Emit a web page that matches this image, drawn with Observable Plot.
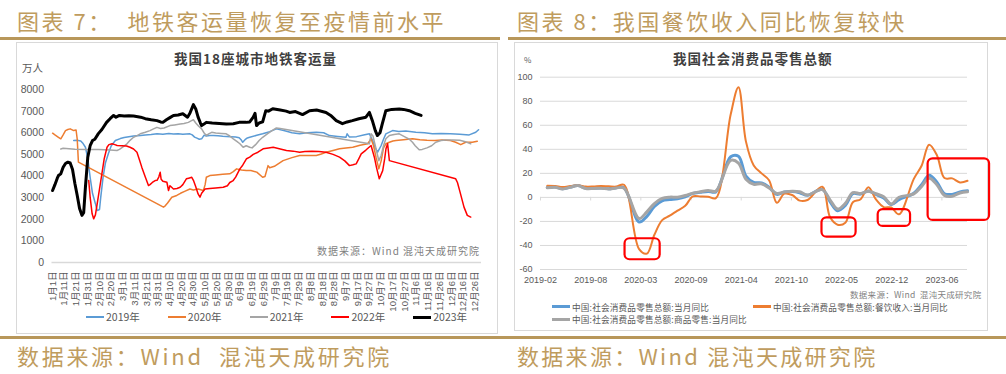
<!DOCTYPE html>
<html><head><meta charset="utf-8">
<script src="https://cdn.jsdelivr.net/npm/d3@7"></script>
<script src="https://cdn.jsdelivr.net/npm/@observablehq/plot@0.6"></script>
<style>
html,body{margin:0;padding:0;background:#fff;}
body{width:1006px;height:374px;position:relative;overflow:hidden;font-family:"Noto Sans CJK SC","Liberation Sans",sans-serif;}
.abs{position:absolute;white-space:nowrap;}
.h{color:#bf9c5e;font-size:22px;letter-spacing:2.5px;line-height:1;}
.rule{position:absolute;background:#b8975a;height:3px;}
.box{position:absolute;border:1px solid #d9d9d9;box-sizing:border-box;}
.ct{color:#404040;font-size:13.5px;font-weight:700;letter-spacing:1px;line-height:1;}
.src{color:#7f7f7f;line-height:1;}
.lg{color:#595959;line-height:1;display:flex;align-items:center;}
.sw{display:inline-block;width:18px;margin-right:2px;}
</style></head><body>
<div id="page"></div>
<script>
// ---------- Left chart data: day index (leap-year calendar) , 万人 ----------
const dayTicks = [1,11,21,31,41,51,61,71,81,91,101,111,121,131,141,151,161,171,181,191,201,211,221,231,241,251,261,271,281,291,301,311,321,331,341,351,361];
const dayLabels = ["1月1日","1月11日","1月21日","1月31日","2月10日","2月20日","3月1日","3月11日","3月21日","3月31日","4月10日","4月20日","4月30日","5月10日","5月20日","5月30日","6月9日","6月19日","6月29日","7月9日","7月19日","7月29日","8月8日","8月18日","8月28日","9月7日","9月17日","9月27日","10月7日","10月17日","10月27日","11月6日","11月16日","11月26日","12月6日","12月16日","12月26日"];
const leftYTicks = [0,1000,2000,3000,4000,5000,6000,7000,8000];
const yearNames = ["2019年","2020年","2021年","2022年","2023年"];

const s2019 = [[19,5640],[22,5650],[25,5620],[27,5500],[29,5330],[31,4800],[33,3940],[35,3200],[37.5,2720],[39,2400],[41,2450],[42,3000],[44,3940],[46,4600],[48.5,5030],[51,5400],[54.5,5640],[58.7,5730],[62,5780],[66,5820],[70,5850],[76,5870],[80,5900],[85,5920],[90,5950],[95,5930],[100,5960],[104,5940],[108,5950],[112,5930],[118,5950],[120,5900],[122,5800],[124,5750],[126,5700],[128,5720],[130,5880],[132,5850],[135,5870],[138,5870],[142,5860],[146,5840],[149,5830],[153,5820],[157,5800],[160,5770],[162,5650],[163,5560],[165,5680],[167,5760],[169,5790],[175,5880],[180,5950],[186,6050],[191.7,6180],[198,6100],[205,6000],[211.5,5950],[218,6000],[225.7,6020],[232,6000],[237,5870],[244,5830],[251,5790],[252,5950],[254,5800],[260,5820],[266,5900],[271,5950],[273.7,5640],[276,5300],[278,5100],[281,5410],[283,5700],[285,5950],[290.7,6100],[296,6060],[302,6080],[310.6,6020],[318,6000],[324.7,5950],[332,5960],[340,5950],[348,5930],[356,5900],[361.6,6020],[364,6140]];
const s2020 = [[1,5980],[3,5900],[6,5790],[8,5720],[10,5900],[12,6100],[14,6150],[16,6180],[19,6100],[21,6130],[22,5700],[23,4640],[95.5,2560],[97,2620],[99,2750],[102.6,3020],[106.8,3100],[110,3200],[114,3300],[118,3400],[121,3350],[125,3400],[129.5,3330],[131,3600],[132,3940],[135,4020],[140,4050],[146,4080],[152,4100],[155,4200],[157.8,4330],[162,4280],[166,4250],[170,4250],[175,4180],[180,3940],[182,3980],[184.6,4480],[186,4380],[190,4450],[197.4,4710],[205,4850],[211.5,4950],[218,4950],[225.7,4950],[230,5020],[234,5100],[240,5180],[245.5,5260],[251,5300],[256.8,5330],[263,5420],[269.5,5490],[272.4,5720],[274.5,5400],[276.6,4870],[279,4330],[281,4700],[283,5300],[285,5490],[288,5560],[291,5620],[293.6,5640],[300,5680],[307.7,5720],[314,5680],[320,5650],[326.7,5640],[333,5660],[340,5640],[344.5,5560],[348.8,5450],[353,5560],[358.6,5560],[362.9,5610]];
const s2021 = [[8,5250],[10,5280],[15,5260],[20,5240],[30,5230],[40,5220],[50,5200],[55.9,5180],[58,5230],[61,5350],[64.4,5490],[67,5650],[70,5790],[73,5870],[75.7,5950],[80,6020],[84,6100],[87,6180],[89.9,6250],[93,6200],[96,6220],[101,6330],[105,6360],[109.7,6400],[113,6430],[116.7,6480],[119,6550],[121,6600],[123,6450],[125.5,6300],[128,6180],[130,6000],[132,5870],[134,5950],[136.6,6020],[140,5990],[145,5970],[149,5950],[152,5850],[155,5720],[158,5600],[160.6,5490],[163.4,5330],[166,5400],[169,5330],[171,5300],[174,5450],[177,5640],[180,5790],[184,5950],[188,6100],[191.7,6220],[195,6200],[271,5490],[272.4,5950],[274,5850],[276,5400],[279,4710],[281,4950],[283,5400],[285,5720],[288,5870],[292,5920],[296.4,5950],[302,5790],[305,5700],[307.7,5560],[310,5400],[313.4,5210],[316,5230],[320,5300],[324,5400],[327.5,5560],[332,5640],[336,5670],[342,5660],[348,5650],[352,5600],[357.3,5490]];
const s2022 = [[31.8,3790],[33,3020],[34.7,2250],[36,2020],[37.5,2200],[39,2710],[41,3400],[43,4100],[45,4800],[47.4,5330],[49,5450],[51.7,5490],[54,5450],[56,5410],[60,5400],[64,5390],[67,5330],[70,5250],[72.9,5100],[75,4750],[77,4410],[80,3950],[82.7,3560],[84,3600],[86,3700],[88.4,3790],[90,3800],[91.5,3950],[92.7,4170],[93.5,3850],[95,3760],[98.4,3710],[99.8,3330],[101,3550],[102,3500],[104,3400],[107,3420],[109.7,3480],[112,3600],[115,3870],[117,3900],[119.6,3940],[121,3800],[123,3500],[125,3170],[126.6,3020],[128,3200],[130.9,3400],[135,3420],[140,3450],[146.4,3480],[150,3550],[152,3700],[154.9,3790],[157,3950],[160.6,4330],[163,4500],[166.3,4800],[169,4870],[172,5000],[176,5100],[180.4,5260],[185,5300],[189,5330],[195,5250],[200.3,5180],[206,5150],[211.5,5100],[216,5130],[222,5150],[228,5130],[234,5100],[240,5000],[245.5,4870],[250,4700],[254,4480],[257,4520],[259.7,4560],[262,4800],[264,5020],[268,5200],[272.4,5410],[275.2,4870],[277,4400],[279.4,3870],[282.3,4250],[284,4800],[285.1,5260],[286.5,5490],[288,4710],[344.5,3870],[346,3700],[348,3300],[351.6,2560],[354.4,2180],[357.3,2100]];
const s2023 = [[1,3330],[3,3600],[5,3900],[6,4020],[8,4100],[10,4400],[12,4580],[14,4640],[16,4600],[18,4300],[20,3650],[22,3100],[24,2500],[26,2180],[27.5,2300],[29,3500],[31,4870],[33,5400],[35,5640],[37,5700],[40,5960],[43,6150],[47,6480],[50,6650],[53,6800],[55,6720],[58,6800],[62,6780],[66,6790],[70,6770],[76,6720],[80,6650],[85,6600],[90,6560],[93,6500],[95,6480],[98,6600],[101,6700],[104,6800],[108,6820],[112,6880],[114,6800],[116,6720],[118,6900],[121,7300],[123,7100],[125,6720],[127,6450],[128,6330],[130,6400],[132,6480],[137,6450],[143,6430],[149,6400],[155,6420],[160,6480],[166,6480],[169,6500],[172,6720],[173.5,6900],[174.8,6330],[177,6450],[180,6500],[182.7,7020],[185,7000],[188.6,7110],[195,7050],[200,7000],[203,6940],[208,6980],[214,6840],[220,7020],[226,7050],[234,6940],[238,6800],[242.7,6560],[248,6420],[252,6500],[256.5,6560],[262,6650],[268,6720],[271,6940],[273.5,6560],[276,6100],[277.8,5870],[280,6000],[282,6420],[285,7020],[290,7080],[296.4,7100],[300,7080],[305,7020],[310,6900],[315,6800]];
const yearColors = ["#5b9bd5","#ed7d31","#a5a5a5","#ff0000","#000000"];
const yearWidths = [1.5,1.5,1.5,1.5,3];

// ---------- Right chart data: monthly (Jan merged into Feb) ----------
const months = ["2019-02","2019-03","2019-04","2019-05","2019-06","2019-07","2019-08","2019-09","2019-10","2019-11","2019-12",
"2020-02","2020-03","2020-04","2020-05","2020-06","2020-07","2020-08","2020-09","2020-10","2020-11","2020-12",
"2021-02","2021-03","2021-04","2021-05","2021-06","2021-07","2021-08","2021-09","2021-10","2021-11","2021-12",
"2022-02","2022-03","2022-04","2022-05","2022-06","2022-07","2022-08","2022-09","2022-10","2022-11","2022-12",
"2023-02","2023-03","2023-04","2023-05","2023-06","2023-07","2023-08","2023-09"];
const retailTotal = [8.2,8.7,7.2,8.6,9.8,7.6,7.5,7.8,7.2,8.0,8.0,
-20.5,-15.8,-7.5,-2.8,-1.8,-1.1,0.5,3.3,4.3,5.0,4.6,
33.8,34.2,17.7,12.4,12.1,8.5,2.5,4.4,4.9,3.9,1.7,
6.7,-3.5,-11.1,-6.7,3.1,2.7,5.4,2.5,-0.5,-5.9,-1.8,
3.5,10.6,18.4,12.7,3.1,2.5,4.6,5.5];
const catering = [9.7,9.5,8.6,9.4,10.2,9.0,9.1,9.5,9.2,9.0,10.5,
-43.1,-46.8,-31.1,-18.9,-15.2,-11.0,-7.0,0.9,0.8,0.6,-0.6,
68.9,91.6,46.4,26.6,20.2,14.3,-4.5,3.1,2.0,-2.7,-2.2,
8.9,-16.4,-22.7,-21.1,-4.0,-1.5,8.4,-1.7,-8.1,-8.4,-14.1,
15.4,26.3,43.8,35.1,16.1,15.8,12.4,13.8];
const goods = [8.0,8.5,7.0,8.5,9.8,7.4,7.4,7.7,7.0,7.9,7.7,
-17.6,-12.0,-5.1,-0.8,0.2,0.2,1.6,3.5,4.7,5.8,5.2,
30.7,28.6,15.1,10.9,11.3,7.9,3.3,4.5,5.2,4.7,2.0,
6.5,-2.1,-9.7,-5.0,3.9,3.2,5.1,3.0,0.5,-5.6,0.1,
2.9,9.1,15.9,10.5,1.7,1.0,3.7,4.6];
const seriesNames = ["中国:社会消费品零售总额:当月同比","中国:社会消费品零售总额:餐饮收入:当月同比","中国:社会消费品零售总额:商品零售:当月同比"];
const seriesColors = ["#5b9bd5","#ed7d31","#a5a5a5"];
const xTickLabels = ["2019-02","2019-08","2020-03","2020-09","2021-04","2021-10","2022-05","2022-12","2023-06"];
const rightYTicks = [-60,-40,-20,0,20,40,60,80,100];
// highlight boxes (date range, value range)
const highlights = [
  ["2020-01-04","2020-05-23",-34.4,-51.9],
  ["2022-02-27","2022-07-13",-17.0,-33.1],
  ["2022-10-09","2023-02-15",-10.1,-24.2],
  ["2023-04-26","2023-12-27",32.1,-19.2]
];

// ---------- page ----------
const page = document.getElementById("page");
function el(cls, style, html){const d=document.createElement("div");d.className=cls;Object.assign(d.style,style);d.innerHTML=html||"";page.appendChild(d);return d;}

el("abs h",{left:"17px",top:"9px"},"图表 7：&nbsp;&nbsp;地铁客运量恢复至疫情前水平");
el("abs h",{left:"517px",top:"9px"},"图表 8：我国餐饮收入同比恢复较快");
el("rule",{left:"0px",top:"37px",width:"500px"});
el("rule",{left:"508px",top:"37px",width:"498px"});
el("box",{left:"16px",top:"42px",width:"482px",height:"292px"});
el("box",{left:"514px",top:"42px",width:"474px",height:"289px"});
el("rule",{left:"0px",top:"336px",width:"1006px"});
el("abs h",{left:"17px",top:"344px",letterSpacing:"2.7px"},"数据来源：Wind&nbsp;&nbsp;混沌天成研究院");
el("abs h",{left:"517px",top:"344px",letterSpacing:"2.3px"},"数据来源：Wind 混沌天成研究院");

const font = '"Liberation Sans","Noto Sans CJK SC",sans-serif';

// left chart
const yearSeries = [s2019,s2020,s2021,s2022,s2023];
const labelByDay = new Map(dayTicks.map((d,i)=>[d,dayLabels[i]]));
const left = Plot.plot({
  width: 481, height: 291,
  marginLeft: 35.5, marginRight: 16, marginTop: 47, marginBottom: 71,
  style: {fontFamily: font, fontSize: "10px", color: "#595959", background: "transparent", overflow: "visible"},
  x: {domain: [0.5, 366.5], label: null},
  y: {domain: [0, 8000], label: null},
  marks: [
    Plot.axisX(dayTicks, {tickSize: 0, tickPadding: 9, tickRotate: -90, tickFormat: d => labelByDay.get(d), fontSize: 9.5, fill: "#595959"}),
    Plot.axisY(leftYTicks, {tickSize: 0, tickPadding: 8, tickFormat: d => String(d), fontSize: 10.5, fill: "#595959"}),
    Plot.ruleY([0], {stroke: "#d9d9d9", strokeWidth: 1.5}),
    ...yearSeries.map((s,i) => Plot.line(s, {x: d => d[0], y: d => d[1], stroke: yearColors[i], strokeWidth: yearWidths[i], strokeLinejoin: "round"}))
  ]
});
left.style.position = "absolute"; left.style.left = "16px"; left.style.top = "42px";
page.appendChild(left);
el("abs ct",{left:"174px",top:"52px"},"我国18座城市地铁客运量");
el("abs src",{left:"22px",top:"63px",fontSize:"10.5px",color:"#595959"},"万人");
el("abs src",{left:"317px",top:"246px",fontSize:"10px",letterSpacing:"1px"},"数据来源：Wind 混沌天成研究院");
const lgL = el("abs lg",{left:"86px",top:"312px",fontSize:"10.5px"},"");
yearNames.forEach((n,i)=>{
  const it=document.createElement("span");it.style.display="inline-flex";it.style.alignItems="center";it.style.marginRight="28px";
  it.innerHTML=`<span class="sw" style="border-top:${yearWidths[i]+0.5}px solid ${yearColors[i]}"></span>${n}`;
  lgL.appendChild(it);
});

// right chart
const toDate = s => { const [y,m] = s.split("-").map(Number); return new Date(Date.UTC(y, m, 0)); };
const rows = months.map((m,i)=>({date: toDate(m), total: retailTotal[i], cat: catering[i], goods: goods[i]}));
const t0 = Date.UTC(2019,1,1);
const xTicks = xTickLabels.map((l,i)=> new Date(t0 + i*200*864e5));
const tickLabelMap = new Map(xTicks.map((d,i)=>[+d, xTickLabels[i]]));
const hl = highlights.map(h=>({x1:new Date(h[0]),x2:new Date(h[1]),y1:h[2],y2:h[3]}));
const right = Plot.plot({
  width: 473, height: 288,
  marginLeft: 26, marginRight: 20, marginTop: 34.7, marginBottom: 61,
  style: {fontFamily: font, fontSize: "9px", color: "#595959", background: "transparent", overflow: "visible"},
  x: {type: "utc", domain: [new Date(t0), new Date(Date.UTC(2023,8,30))], label: null},
  y: {domain: [-60, 100], label: null},
  marks: [
    Plot.gridY(rightYTicks, {stroke: "#d9d9d9", strokeOpacity: 1, strokeWidth: 1}),
    Plot.ruleX(xTicks, {y1: 0, y2: -3, stroke: "#d9d9d9"}),
    Plot.axisX(xTicks, {tickSize: 0, tickPadding: 7, tickFormat: d => tickLabelMap.get(+d), fontSize: 9, fill: "#595959"}),
    Plot.axisY(rightYTicks, {tickSize: 0, tickPadding: 8, tickFormat: d => String(d), fontSize: 9, fill: "#595959"}),
    Plot.line(rows, {x: "date", y: "total", stroke: seriesColors[0], strokeWidth: 3, curve: "catmull-rom"}),
    Plot.line(rows, {x: "date", y: "cat", stroke: seriesColors[1], strokeWidth: 2, curve: "catmull-rom"}),
    Plot.line(rows, {x: "date", y: "goods", stroke: seriesColors[2], strokeWidth: 3, curve: "catmull-rom"}),
    Plot.rect(hl, {x1: "x1", x2: "x2", y1: "y1", y2: "y2", stroke: "#ff0000", strokeWidth: 2.2, fill: "none", rx: 5})
  ]
});
right.style.position = "absolute"; right.style.left = "514px"; right.style.top = "42px";
page.appendChild(right);
el("abs ct",{left:"673px",top:"52px"},"我国社会消费品零售总额");
el("abs src",{left:"524px",top:"56px",fontSize:"8px",color:"#595959"},"%");
el("abs src",{left:"850px",top:"290px",fontSize:"8.5px",letterSpacing:"0.3px"},"数据来源：Wind&nbsp;&nbsp;混沌天成研究院");
function lgItem(x,y,i){
  el("abs lg",{left:x+"px",top:y+"px",fontSize:"8.6px",letterSpacing:"0.2px"},`<span class="sw" style="border-top:3px solid ${seriesColors[i]}"></span>${seriesNames[i]}`);
}
lgItem(552,302.5,0); lgItem(753,302.5,1); lgItem(552,315,2);
</script>
</body></html>
